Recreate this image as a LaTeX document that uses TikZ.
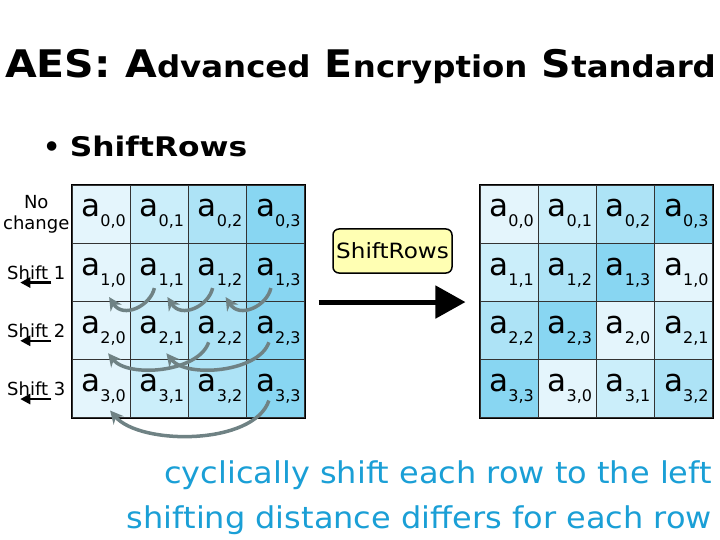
\documentclass[tikz,border=0pt]{standalone}
\usepackage{fontspec}
\setmainfont{DejaVu Sans}
\usetikzlibrary{positioning,arrows.meta,calc}
\definecolor{cell0}{HTML}{E4F5FC}
\definecolor{cell1}{HTML}{CBEEFA}
\definecolor{cell2}{HTML}{ADE3F6}
\definecolor{cell3}{HTML}{88D6F2}
\definecolor{arcgray}{HTML}{6F8284}
\definecolor{noteblue}{HTML}{1A9FD6}
\definecolor{boxyellow}{HTML}{FFFFB3}
\newcommand{\ent}[2]{\hspace*{5pt}{\fontsize{31}{31}\selectfont a}\raisebox{-10pt}{\fontsize{16}{16}\selectfont #1,#2}}
\newcommand{\wide}[2]{\scalebox{#1}[1]{#2}}
\tikzset{
  cell/.style={draw=black!80, line width=1.1pt, minimum size=58.25pt, inner sep=0pt},
  lbl/.style={font=\fontsize{18}{21}\selectfont, align=center, inner sep=0pt, minimum width=68pt},
  shl/.style={-{Triangle[length=10pt,width=10pt]}, line width=2.5pt},
  shiftarc/.style={-{Stealth[length=13pt,width=13pt]}, arcgray, line width=3.5pt},
  bigarr/.style={-{Triangle[length=30pt,width=32pt]}, line width=5pt},
  opbox/.style={draw, line width=1.5pt, fill=boxyellow, rounded corners=6pt, font=\fontsize{21}{21}\selectfont, minimum width=119pt, minimum height=44pt, inner sep=1pt},
  note/.style={font=\fontsize{30}{30}\selectfont, text=noteblue, inner sep=0pt, anchor=base east},
}
\begin{document}
\begin{tikzpicture}[x=1pt, y=-1pt]
\path[use as bounding box, fill=white] (0,0) rectangle (720,540);
\node[anchor=base west, inner sep=0pt] (title) at (5,78)
  {\wide{1.08}{\bfseries\fontsize{38}{38}\selectfont AES: A{\fontsize{30}{30}\selectfont dvanced} E{\fontsize{30}{30}\selectfont ncryption} S{\fontsize{30}{30}\selectfont tandard}}};
\node[anchor=base west, inner sep=0pt] (item) at (43,157)
  {\bfseries\fontsize{27}{27}\selectfont\textbullet\ \wide{1.16}{ShiftRows}};
% state before and after
\foreach \r in {0,...,3}{
  \foreach \c in {0,...,3}{
    \pgfmathtruncatemacro{\k}{mod(\c+\r,4)}
    \node[cell, fill=cell\c] (L\r\c) at ({72+58.25*(\c+0.5)},{185+58.25*(\r+0.5)}) {\ent{\r}{\c}};
    \node[cell, fill=cell\k] (R\r\c) at ({480+58.25*(\c+0.5)},{185+58.25*(\r+0.5)}) {\ent{\r}{\k}};
  }
}
\draw[line width=1.5pt] (L00.north west) rectangle (L33.south east);
\draw[line width=1.5pt] (R00.north west) rectangle (R33.south east);
% row labels
\node[lbl, left=1pt of L00] (nochg) {No\\change};
\node[lbl, left=1pt of L10] (sh1) {Shift 1};
\node[lbl, left=1pt of L20] (sh2) {Shift 2};
\node[lbl, left=1pt of L30] (sh3) {Shift 3};
\draw[shl] ($(sh1.south)+(15,3)$) -- ($(sh1.south)+(-16,3)$);
\draw[shl] ($(sh2.south)+(15,3)$) -- ($(sh2.south)+(-16,3)$);
\draw[shl] ($(sh3.south)+(15,3)$) -- ($(sh3.south)+(-16,3)$);
% cyclic moves
\draw[shiftarc] ($(L11.south)+(-5,-14)$) .. controls +(-4,18) and +(14,22) .. ($(L10.south)+(8,-5)$);
\draw[shiftarc] ($(L12.south)+(-5,-14)$) .. controls +(-4,18) and +(14,22) .. ($(L11.south)+(8,-5)$);
\draw[shiftarc] ($(L13.south)+(-5,-14)$) .. controls +(-4,18) and +(14,22) .. ($(L12.south)+(8,-5)$);
\draw[shiftarc] ($(L22.south)+(-9,-18)$) .. controls +(-10,30) and +(20,25) .. ($(L20.south)+(7,-7)$);
\draw[shiftarc] ($(L23.south)+(-7,-18)$) .. controls +(-10,30) and +(20,25) .. ($(L21.south)+(7,-7)$);
\draw[shiftarc] ($(L33.south)+(-7,-18)$) .. controls +(-15,45) and +(30,35) .. ($(L30.south)+(9,-8)$);
% operation
\node[opbox] (op) at (392.5,251) {\wide{1.1}{ShiftRows}};
\draw[bigarr] ($(L13.south east)+(13,0)$) -- ($(R10.south west)+(-14,0)$);
\node[note] (n1) at (712,483) {\wide{1.066}{cyclically shift each row to the left}};
\node[note] (n2) at (712,528) {\wide{1.066}{shifting distance differs for each row}};
\end{tikzpicture}
\end{document}
